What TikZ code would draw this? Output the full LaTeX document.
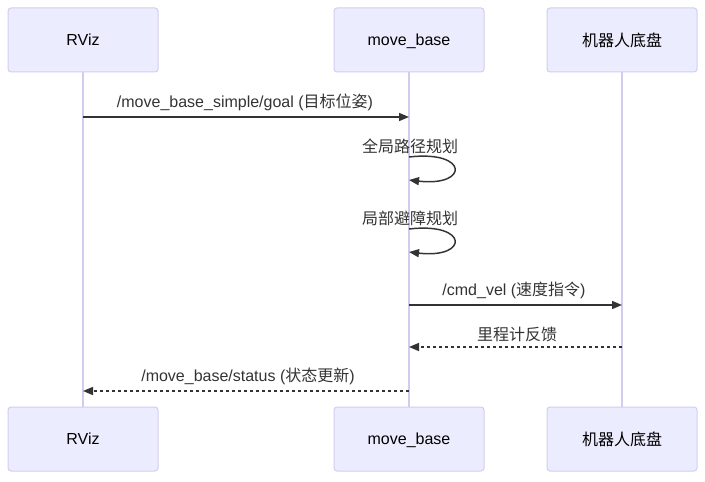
\documentclass[tikz,border=0pt]{standalone}
\usepackage{fontspec}
\setmainfont{Liberation Sans}
\newfontfamily\cjk{Noto Sans CJK SC}
\usetikzlibrary{arrows.meta}
\definecolor{actfill}{HTML}{ECECFF}
\definecolor{actborder}{HTML}{D4CCF0}
\definecolor{lifeline}{HTML}{D4CCF0}
\definecolor{txt}{HTML}{333333}
\tikzset{
  actor/.style={draw=actborder, fill=actfill, rounded corners=2.25pt, minimum width=112.5pt, minimum height=48pt, inner sep=0pt, text=black, font=\fontsize{12}{14}\selectfont, line width=0.75pt, text depth=0pt},
  life/.style={draw=lifeline, line width=0.9pt},
  msg/.style={draw=txt, line width=1.1pt, -{Triangle[length=7.5pt,width=6pt]}},
  reply/.style={msg, dash pattern=on 2.25pt off 2.25pt},
  lbl/.style={text=txt, font=\fontsize{12}{14}\selectfont, inner sep=0pt}
}
\begin{document}
\begin{tikzpicture}[x=0.75pt,y=-0.75pt]
\useasboundingbox (0,0) rectangle (705,481);
% lifelines
\coordinate (rt) at (83,72); \coordinate (rb) at (83,407);
\coordinate (mt) at (409,72); \coordinate (mb) at (409,407);
\coordinate (ct) at (622,72); \coordinate (cb) at (622,407);
\draw[life] (rt) -- (rb);
\draw[life] (mt) -- (mb);
\draw[life] (ct) -- (cb);
% actors
\node[actor] (r1) at (83,40) {RViz};
\node[actor] (m1) at (409,40) {move\_base};
\node[actor] (c1) at (622,40) {{\cjk 机器人底盘}};
\node[actor] (r2) at (83,439) {RViz};
\node[actor] (m2) at (409,439) {move\_base};
\node[actor] (c2) at (622,439) {{\cjk 机器人底盘}};
% message 1
\coordinate (a1) at (83,117); \coordinate (b1) at (409,117);
\draw[msg] (a1) -- (b1);
\node[lbl] (l1) at (245,102) {/move\_base\_simple/goal ({\cjk 目标位姿})};
% self loop 1
\coordinate (s1) at (409,157); \coordinate (e1) at (409,180);
\draw[msg] (s1) .. controls (469,150) and (469,187) .. (e1);
\node[lbl] (l2) at (410,146) {{\cjk 全局路径规划}};
% self loop 2
\coordinate (s2) at (409,229); \coordinate (e2) at (409,252);
\draw[msg] (s2) .. controls (469,222) and (469,259) .. (e2);
\node[lbl] (l3) at (410,218) {{\cjk 局部避障规划}};
% cmd_vel
\coordinate (a4) at (409,305); \coordinate (b4) at (622,305);
\draw[msg] (a4) -- (b4);
\node[lbl] (l4) at (514,290) {/cmd\_vel ({\cjk 速度指令})};
% odom
\coordinate (a5) at (622,347); \coordinate (b5) at (409,347);
\draw[reply] (a5) -- (b5);
\node[lbl] (l5) at (517,334) {{\cjk 里程计反馈}};
% status
\coordinate (a6) at (409,391); \coordinate (b6) at (83,391);
\draw[reply] (a6) -- (b6);
\node[lbl] (l6) at (248,376) {/move\_base/status ({\cjk 状态更新})};
\end{tikzpicture}
\end{document}
